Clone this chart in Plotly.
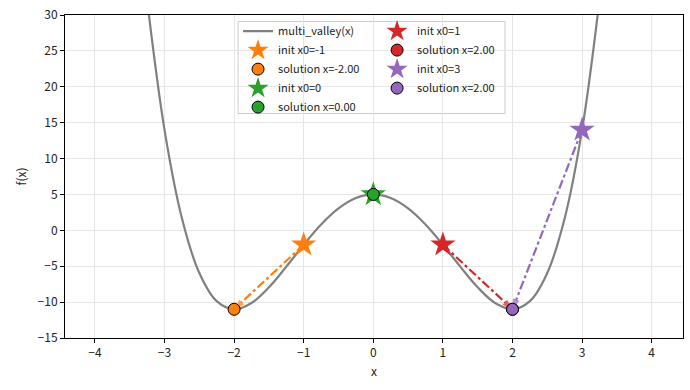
import plotly.graph_objects as go

# curve samples
curve_x = [-3.25, -3.0, -2.75, -2.5, -2.25, -2.0, -1.75, -1.5, -1.25, -1.0, -0.75, -0.5, -0.25,
           0.0, 0.25, 0.5, 0.75, 1.0, 1.25, 1.5, 1.75, 2.0, 2.25, 2.5, 2.75, 3.0, 3.25]
curve_y = [32.07, 14.0, 1.69, -5.94, -9.87, -11.0, -10.12, -7.94, -5.06, -2.0, 0.82, 3.06, 4.50,
           5.0, 4.50, 3.06, 0.82, -2.0, -5.06, -7.94, -10.12, -11.0, -9.87, -5.94, 1.69, 14.0, 32.07]

init_x = [-1, 0, 1, 3]
init_y = [-2, 5, -2, 14]
sol_x = [-2.0, 0.0, 2.0, 2.0]
sol_y = [-11.0, 5.0, -11.0, -11.0]
colors = ["#ff7f0e", "#2ca02c", "#d62728", "#9467bd"]
init_labels = ["init x0=-1", "init x0=0", "init x0=1", "init x0=3"]
sol_labels = ["solution x=-2.00", "solution x=0.00", "solution x=2.00", "solution x=2.00"]
legend_ids = ["legend", "legend", "legend2", "legend2"]

FONT = "Noto Sans CJK JP"
fig = go.Figure()

fig.add_trace(go.Scatter(x=curve_x, y=curve_y, mode="lines", line=dict(color="#808080", width=2.2, shape="spline"),
                         name="multi_valley(x)", legend="legend"))

for i in range(4):
    c = colors[i]
    fig.add_trace(go.Scatter(x=[init_x[i]], y=[init_y[i]], mode="markers",
                             marker=dict(symbol="star", size=19, color=c, line=dict(width=0)),
                             name=init_labels[i], legend=legend_ids[i]))
    if init_x[i] != sol_x[i]:
        fig.add_trace(go.Scatter(x=[init_x[i], sol_x[i]], y=[init_y[i], sol_y[i]], mode="lines+markers",
                                 line=dict(color=c, width=2.2, dash="dashdot"),
                                 marker=dict(symbol=["circle", "arrow"], size=[0, 11], color=c,
                                             angleref="previous", line=dict(width=0)),
                                 showlegend=False, hoverinfo="skip"))
    fig.add_trace(go.Scatter(x=[sol_x[i]], y=[sol_y[i]], mode="markers",
                             marker=dict(symbol="circle", size=12, color=c, line=dict(color="black", width=1)),
                             name=sol_labels[i], legend=legend_ids[i]))

legend_common = dict(font=dict(family=FONT, size=11, color="#222"), bgcolor="rgba(0,0,0,0)",
                     borderwidth=0, itemwidth=30, yanchor="top", xanchor="left",
                     tracegroupgap=0, itemsizing="trace")

fig.update_layout(
    width=690, height=390,
    margin=dict(l=65, r=7, t=15, b=52),
    plot_bgcolor="white", paper_bgcolor="white",
    font=dict(family=FONT, size=12, color="#222"),
    legend=dict(x=0.28, y=0.995, **legend_common),
    legend2=dict(x=0.505, y=0.995, **legend_common),
    xaxis=dict(range=[-4.43, 4.45], tickmode="array", tickvals=[-4, -3, -2, -1, 0, 1, 2, 3, 4],
               ticktext=["\u22124", "\u22123", "\u22122", "\u22121", "0", "1", "2", "3", "4"],
               showgrid=True, gridcolor="#e6e6e6", gridwidth=1, zeroline=False,
               showline=True, linecolor="black", linewidth=1, mirror=True,
               ticks="outside", ticklen=4, tickcolor="black", ticklabeloverflow="allow",
               title=dict(text="x", font=dict(size=12), standoff=8)),
    yaxis=dict(range=[-15, 30], tickmode="array", tickvals=[-15, -10, -5, 0, 5, 10, 15, 20, 25, 30],
               ticktext=["\u221215", "\u221210", "\u22125", "0", "5", "10", "15", "20", "25", "30"],
               showgrid=True, gridcolor="#e6e6e6", gridwidth=1, zeroline=False,
               showline=True, linecolor="black", linewidth=1, mirror=True,
               ticks="outside", ticklen=4, tickcolor="black", ticklabeloverflow="allow",
               automargin=False,
               title=dict(text="f(x)", font=dict(size=12), standoff=8)),
    shapes=[dict(type="rect", xref="paper", yref="paper", x0=0.28, x1=0.712, y0=0.695, y1=0.98,
                 line=dict(color="#cccccc", width=1), fillcolor="rgba(255,255,255,0.8)", layer="below")],
)

fig.write_html("out.html", config={"displayModeBar": False},
               post_script="document.body.style.margin='0';")
